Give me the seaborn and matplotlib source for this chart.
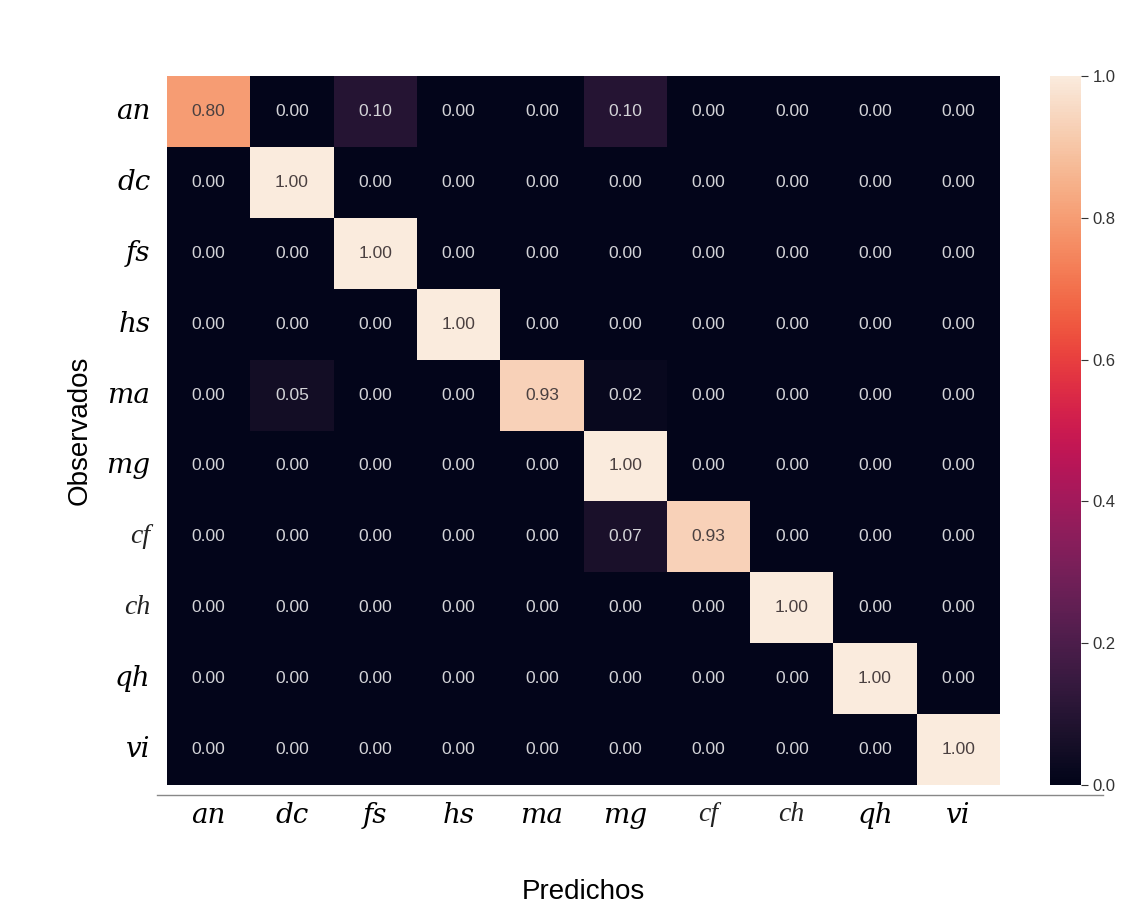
import numpy as np
import pandas as pd
import matplotlib
matplotlib.use('Agg')
import matplotlib.pyplot as plt
import seaborn as sns
from matplotlib.lines import Line2D

# clases (observados / predichos)
clases = ['an', 'dc', 'fs', 'hs', 'ma', 'mg', 'cf', 'ch', 'qh', 'vi']

# matriz de confusion normalizada, fila por fila
fila_an = [0.80, 0.00, 0.10, 0.00, 0.00, 0.10, 0.00, 0.00, 0.00, 0.00]
fila_dc = [0.00, 1.00, 0.00, 0.00, 0.00, 0.00, 0.00, 0.00, 0.00, 0.00]
fila_fs = [0.00, 0.00, 1.00, 0.00, 0.00, 0.00, 0.00, 0.00, 0.00, 0.00]
fila_hs = [0.00, 0.00, 0.00, 1.00, 0.00, 0.00, 0.00, 0.00, 0.00, 0.00]
fila_ma = [0.00, 0.05, 0.00, 0.00, 0.93, 0.02, 0.00, 0.00, 0.00, 0.00]
fila_mg = [0.00, 0.00, 0.00, 0.00, 0.00, 1.00, 0.00, 0.00, 0.00, 0.00]
fila_cf = [0.00, 0.00, 0.00, 0.00, 0.00, 0.07, 0.93, 0.00, 0.00, 0.00]
fila_ch = [0.00, 0.00, 0.00, 0.00, 0.00, 0.00, 0.00, 1.00, 0.00, 0.00]
fila_qh = [0.00, 0.00, 0.00, 0.00, 0.00, 0.00, 0.00, 0.00, 1.00, 0.00]
fila_vi = [0.00, 0.00, 0.00, 0.00, 0.00, 0.00, 0.00, 0.00, 0.00, 1.00]

filas = [fila_an, fila_dc, fila_fs, fila_hs, fila_ma,
         fila_mg, fila_cf, fila_ch, fila_qh, fila_vi]
cm = pd.DataFrame(filas, index=clases, columns=clases)

W, H = 1147, 922
fig = plt.figure(figsize=(W / 100, H / 100), dpi=100)
ax = fig.add_axes([167 / W, 1 - 785 / H, 833 / W, 709 / H])
cax = fig.add_axes([1050 / W, 1 - 785 / H, 31 / W, 709 / H])

sns.heatmap(cm, ax=ax, cbar_ax=cax, cmap='rocket', vmin=0., vmax=1.,
            annot=True, fmt='.2f',
            annot_kws={'fontsize': 12.5, 'family': 'Liberation Sans'})

# texto de las celdas: gris claro sobre oscuro, gris oscuro sobre claro
for t in ax.texts:
    if float(t.get_text()) > 0.5:
        t.set_color('#4a4040')
    else:
        t.set_color('#d4d4d8')

# etiquetas en cursiva (cf y ch con otra fuente, como en el original)
ax.set_xticklabels(clases, rotation=0)
ax.set_yticklabels(clases, rotation=0)
for lbl in ax.get_xticklabels() + ax.get_yticklabels():
    if lbl.get_text() in ('cf', 'ch'):
        lbl.set_fontfamily('Liberation Serif')
        lbl.set_fontsize(20)
        lbl.set_color('#222222')
    else:
        lbl.set_fontfamily('DejaVu Serif')
        lbl.set_fontsize(20)
        lbl.set_color('black')
    lbl.set_fontstyle('italic')
ax.tick_params(axis='both', length=0)
ax.tick_params(axis='x', pad=12)
ax.tick_params(axis='y', pad=12)

ax.set_xlabel('Predichos', fontsize=20, family='Liberation Sans', labelpad=36)
ax.set_ylabel('Observados', fontsize=20, family='Liberation Sans', labelpad=10)

cax.set_yticks([0, 0.2, 0.4, 0.6, 0.8, 1.0])
cax.set_yticklabels(['0.0', '0.2', '0.4', '0.6', '0.8', '1.0'])
cax.tick_params(labelsize=12, length=5, width=0.8, colors='#333333')
for t in cax.get_yticklabels():
    t.set_fontfamily('Liberation Sans')

# linea gris bajo el mapa
fig.add_artist(Line2D([157 / W, 1103 / W], [1 - 795 / H, 1 - 795 / H],
                      color='#888888', lw=1))

fig.savefig('out.png', dpi=100)
